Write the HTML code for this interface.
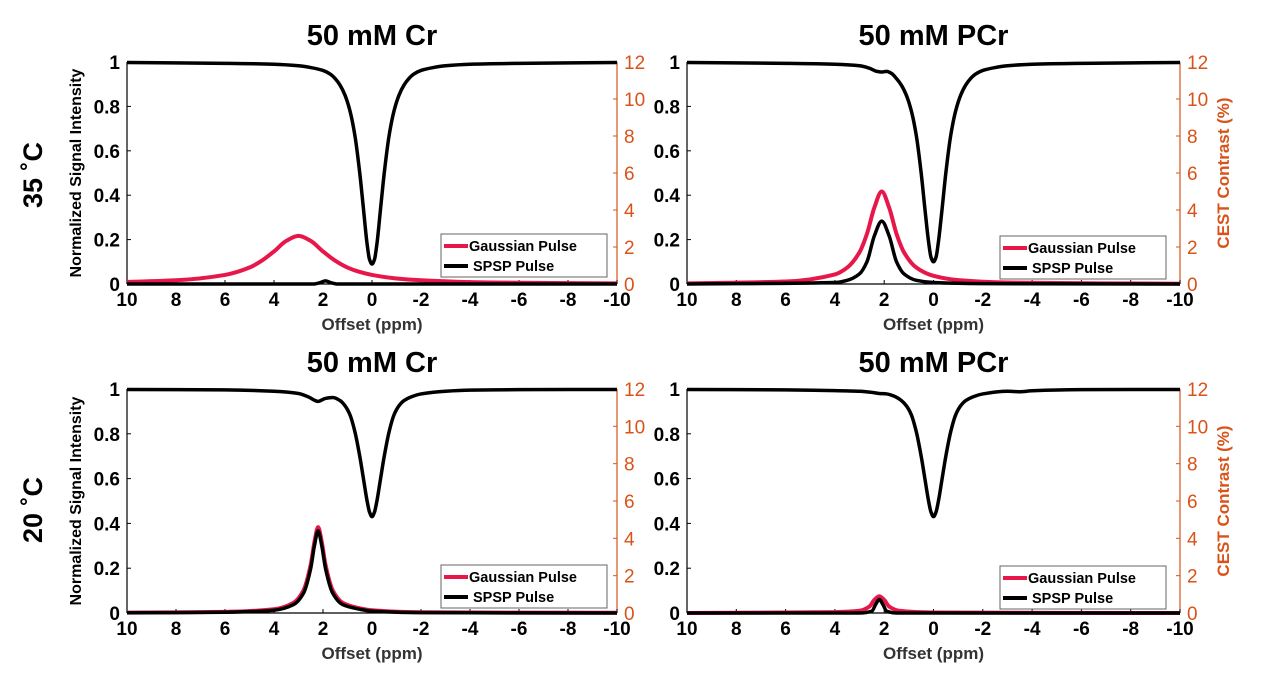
<!DOCTYPE html>
<html><head><meta charset="utf-8">
<style>
html,body{margin:0;padding:0;background:#fff;}
svg{display:block;font-family:"Liberation Sans",Arial,sans-serif;}
</style></head>
<body>
<svg id="fig" width="1266" height="689" viewBox="0 0 1266 689"></svg>
<script>
// ---- chart data ----
const xTicks = [10,8,6,4,2,0,-2,-4,-6,-8,-10];
const xTickLabels = ["10","8","6","4","2","0","-2","-4","-6","-8","-10"];
const yTicks = [0,0.2,0.4,0.6,0.8,1];
const yTickLabels = ["0","0.2","0.4","0.6","0.8","1"];
const y2Ticks = [0,2,4,6,8,10,12];
const y2TickLabels = ["0","2","4","6","8","10","12"];
const panelTitles = ["50 mM Cr","50 mM PCr","50 mM Cr","50 mM PCr"];

// Panel 1: 50 mM Cr, 35 C
const zX1 = [10,6,4,3,2.5,2,1.7,1.5,1.3,1.1,0.9,0.7,0.5,0.35,0.2,0.1,0,-0.1,-0.2,-0.35,-0.5,-0.7,-0.9,-1.1,-1.3,-1.5,-1.7,-2,-2.5,-3,-4,-6,-10];
const zY1 = [0.998,0.994,0.99,0.983,0.975,0.962,0.945,0.925,0.895,0.85,0.78,0.67,0.5,0.34,0.18,0.11,0.09,0.11,0.18,0.34,0.5,0.67,0.78,0.85,0.895,0.925,0.945,0.962,0.975,0.983,0.99,0.994,0.998];
const gX1 = [10,8,6,5,4.5,4,3.5,3,2.5,2,1.5,1,0.5,0,-1,-2,-4,-6,-10];
const gY1 = [0.11,0.2,0.49,0.89,1.26,1.76,2.33,2.6,2.33,1.76,1.26,0.89,0.65,0.49,0.3,0.2,0.1,0.066,0.032];
const sX1 = [10,2.4,2.1,1.9,1.7,1.4,-10];
const sY1 = [0,0,0.08,0.17,0.08,0,0];

// Panel 2: 50 mM PCr, 35 C
const zX2 = [10,6,4,3,2.6,2.3,2.1,1.9,1.7,1.5,1.3,1.1,0.9,0.7,0.5,0.35,0.2,0.1,0,-0.1,-0.2,-0.35,-0.5,-0.7,-0.9,-1.1,-1.3,-1.5,-1.7,-2,-2.5,-3,-4,-6,-10];
const zY2 = [0.998,0.994,0.99,0.983,0.972,0.958,0.955,0.958,0.948,0.925,0.895,0.85,0.78,0.67,0.5,0.34,0.19,0.12,0.1,0.12,0.19,0.34,0.5,0.67,0.78,0.85,0.895,0.925,0.945,0.962,0.975,0.983,0.99,0.994,0.998];
const gX2 = [10,6,4,3.5,3,2.7,2.4,2.1,1.8,1.5,1.2,0.7,0,-1,-3,-10];
const gY2 = [0.033,0.135,0.52,0.89,1.72,2.71,4.13,5.0,4.13,2.71,1.72,0.89,0.44,0.21,0.08,0.014];
const sX2 = [10,4,3.5,3,2.7,2.4,2.1,1.8,1.5,1.2,0.7,0,-2,-10];
const sY2 = [0,0.08,0.2,0.55,1.2,2.6,3.4,2.6,1.2,0.55,0.2,0.08,0.02,0];

// Panel 3: 50 mM Cr, 20 C
const zX3 = [10,6,4,3,2.6,2.2,1.9,1.6,1.3,1.1,0.9,0.7,0.5,0.35,0.2,0.1,0,-0.1,-0.2,-0.35,-0.5,-0.7,-0.9,-1.1,-1.3,-1.6,-2,-3,-4,-6,-10];
const zY3 = [0.998,0.996,0.99,0.98,0.965,0.945,0.958,0.962,0.948,0.925,0.885,0.81,0.7,0.6,0.5,0.45,0.43,0.45,0.5,0.6,0.7,0.81,0.885,0.925,0.948,0.965,0.978,0.99,0.995,0.997,0.998];
const gX3 = [10,6,4,3.2,2.8,2.5,2.35,2.2,2.05,1.9,1.6,1.2,0.5,0,-2,-10];
const gY3 = [0.02,0.06,0.2,0.55,1.2,2.6,3.8,4.6,3.8,2.6,1.2,0.55,0.25,0.15,0.04,0.01];
const sX3 = [10,6,4,3.2,2.8,2.5,2.35,2.2,2.05,1.9,1.6,1.2,0.5,0,-2,-10];
const sY3 = [0.01,0.04,0.15,0.45,1.05,2.4,3.6,4.4,3.6,2.4,1.05,0.45,0.2,0.1,0.02,0];

// Panel 4: 50 mM PCr, 20 C
const zX4 = [10,6,4,3,2.5,2.2,1.9,1.6,1.3,1.1,0.9,0.7,0.5,0.35,0.2,0.1,0,-0.1,-0.2,-0.35,-0.5,-0.7,-0.9,-1.1,-1.3,-1.6,-2,-3,-3.5,-4,-6,-10];
const zY4 = [0.998,0.996,0.993,0.99,0.985,0.98,0.978,0.968,0.948,0.925,0.885,0.81,0.7,0.6,0.5,0.45,0.43,0.45,0.5,0.6,0.7,0.81,0.885,0.925,0.948,0.965,0.978,0.99,0.988,0.992,0.997,0.998];
const gX4 = [10,4,3,2.6,2.4,2.2,2.0,1.8,1.4,0,-10];
const gY4 = [0,0.05,0.12,0.35,0.7,0.9,0.7,0.35,0.12,0.03,0];
const sX4 = [10,3,2.5,2.35,2.2,2.05,1.9,1.5,-10];
const sY4 = [0,0,0.1,0.45,0.72,0.45,0.1,0,0];

const panels = [
  {x0:127,x1:617,y0:62,y1:284,z:[zX1,zY1],g:[gX1,gY1],s:[sX1,sY1],left:true,right:false,lg:[441,234]},
  {x0:687,x1:1180,y0:62,y1:284,z:[zX2,zY2],g:[gX2,gY2],s:[sX2,sY2],left:false,right:true,lg:[1000,236]},
  {x0:127,x1:617,y0:389,y1:613,z:[zX3,zY3],g:[gX3,gY3],s:[sX3,sY3],left:true,right:false,lg:[441,565]},
  {x0:687,x1:1180,y0:389,y1:613,z:[zX4,zY4],g:[gX4,gY4],s:[sX4,sY4],left:false,right:true,lg:[1000,566]}
];

const NS="http://www.w3.org/2000/svg";
const svg=document.getElementById('fig');
const ORANGE="#d95319", RED="#e8174a";
function mk(tag,attrs,parent,text){const e=document.createElementNS(NS,tag);for(const k in attrs)e.setAttribute(k,attrs[k]);if(text!==undefined)e.textContent=text;(parent||svg).appendChild(e);return e;}
// monotone cubic (Fritsch-Carlson) path through pixel points sorted by x
function smoothPath(pts){
  const n=pts.length, dx=[], dy=[], m=[], t=[];
  for(let i=0;i<n-1;i++){dx.push(pts[i+1][0]-pts[i][0]);dy.push(pts[i+1][1]-pts[i][1]);m.push(dy[i]/dx[i]);}
  t[0]=m[0];t[n-1]=m[n-2];
  for(let i=1;i<n-1;i++){
    if(m[i-1]*m[i]<=0)t[i]=0;
    else{const w1=2*dx[i]+dx[i-1],w2=dx[i]+2*dx[i-1];t[i]=(w1+w2)/(w1/m[i-1]+w2/m[i]);}
  }
  let d="M"+pts[0][0].toFixed(2)+","+pts[0][1].toFixed(2);
  for(let i=0;i<n-1;i++){
    const h=dx[i];
    d+=" C"+(pts[i][0]+h/3).toFixed(2)+","+(pts[i][1]+t[i]*h/3).toFixed(2)+" "+(pts[i+1][0]-h/3).toFixed(2)+","+(pts[i+1][1]-t[i+1]*h/3).toFixed(2)+" "+pts[i+1][0].toFixed(2)+","+pts[i+1][1].toFixed(2);
  }
  return d;
}

panels.forEach((p,pi)=>{
  const g=mk('g',{});
  
  
  const sx=v=>p.x0+(10-v)/20*(p.x1-p.x0);
  const sy=v=>p.y1-v*(p.y1-p.y0);
  const sy2=v=>p.y1-v/12*(p.y1-p.y0);
  const t=mk('text',{x:(p.x0+p.x1)/2,y:p.y0-17,'text-anchor':'middle','font-size':29,'font-weight':'bold',fill:'#000'},g,panelTitles[pi]);
  
  
  const ax=mk('g',{},g);
  
  
  mk('line',{x1:p.x0,y1:p.y0,x2:p.x0,y2:p.y1,stroke:'#000','stroke-width':1.2},ax);
  mk('line',{x1:p.x0,y1:p.y1,x2:p.x1,y2:p.y1,stroke:'#000','stroke-width':1.2},ax);
  mk('line',{x1:p.x1,y1:p.y0,x2:p.x1,y2:p.y1,stroke:ORANGE,'stroke-width':1.2},ax);
  xTicks.forEach((v,i)=>{
    mk('line',{x1:sx(v),y1:p.y1,x2:sx(v),y2:p.y1-4,stroke:'#000','stroke-width':1},ax);
    const l=mk('text',{x:sx(v),y:p.y1+22,'text-anchor':'middle','font-size':19,'font-weight':'bold',fill:'#000'},ax,xTickLabels[i]);
    
    
  });
  yTicks.forEach((v,i)=>{
    mk('line',{x1:p.x0,y1:sy(v),x2:p.x0+4,y2:sy(v),stroke:'#000','stroke-width':1},ax);
    const l=mk('text',{x:p.x0-7,y:sy(v)+7,'text-anchor':'end','font-size':19,'font-weight':'bold',fill:'#000'},ax,yTickLabels[i]);
    
    
  });
  y2Ticks.forEach((v,i)=>{
    mk('line',{x1:p.x1,y1:sy2(v),x2:p.x1-4,y2:sy2(v),stroke:ORANGE,'stroke-width':1},ax);
    const l=mk('text',{x:p.x1+7,y:sy2(v)+7,'text-anchor':'start','font-size':19,fill:ORANGE},ax,y2TickLabels[i]);
    
    
  });
  const xl=mk('text',{x:(p.x0+p.x1)/2,y:p.y1+46,'text-anchor':'middle','font-size':17,'font-weight':'bold',fill:'#333'},g,'Offset (ppm)');
  
  
  if(p.left){
    const cy=(p.y0+p.y1)/2;
    const yl=mk('text',{x:0,y:0,transform:`translate(${p.x0-46},${cy}) rotate(-90)`,'text-anchor':'middle','font-size':16,'font-weight':'bold',fill:'#000'},g,'Normalized Signal Intensity');
    
    
  }
  if(p.right){
    const cy=(p.y0+p.y1)/2;
    const yl=mk('text',{x:0,y:0,transform:`translate(${p.x1+49},${cy}) rotate(-90)`,'text-anchor':'middle','font-size':17,'font-weight':'bold',fill:ORANGE},g,'CEST Contrast (%)');
    
    
  }
  const zp=p.z[0].map((x,i)=>[sx(x),sy(p.z[1][i])]);
  const gp=p.g[0].map((x,i)=>[sx(x),sy2(p.g[1][i])]);
  const spp=p.s[0].map((x,i)=>[sx(x),sy2(p.s[1][i])]);
  const e1=mk('path',{d:smoothPath(gp),fill:'none',stroke:RED,'stroke-width':4,'stroke-linejoin':'round'},g);
  
  
  const e2=mk('path',{d:smoothPath(spp),fill:'none',stroke:'#000','stroke-width':3.5,'stroke-linejoin':'round'},g);
  
  
  const e3=mk('path',{d:smoothPath(zp),fill:'none',stroke:'#000','stroke-width':3.5,'stroke-linejoin':'round'},g);
  
  
  const lx=p.lg[0],ly=p.lg[1];
  const lg=mk('g',{},g);
  
  
  mk('rect',{x:lx,y:ly,width:166,height:43,fill:'#fff',stroke:'#666','stroke-width':1},lg);
  mk('line',{x1:lx+3,y1:ly+12,x2:lx+27,y2:ly+12,stroke:RED,'stroke-width':4},lg);
  const t1=mk('text',{x:lx+28,y:ly+17,'font-size':14.5,'font-weight':'bold',fill:'#000'},lg,'Gaussian Pulse');
  
  
  mk('line',{x1:lx+3,y1:ly+32,x2:lx+27,y2:ly+32,stroke:'#000','stroke-width':4},lg);
  const t2=mk('text',{x:lx+32,y:ly+37,'font-size':14.5,'font-weight':'bold',fill:'#000'},lg,'SPSP Pulse');
  
  
});

const r1=mk('text',{x:0,y:0,transform:'translate(42,175) rotate(-90)','text-anchor':'middle','font-size':27,'font-weight':'bold',fill:'#000'},svg,'35 ˚C');


const r2=mk('text',{x:0,y:0,transform:'translate(42,510) rotate(-90)','text-anchor':'middle','font-size':27,'font-weight':'bold',fill:'#000'},svg,'20 ˚C');


</script>
</body></html>
